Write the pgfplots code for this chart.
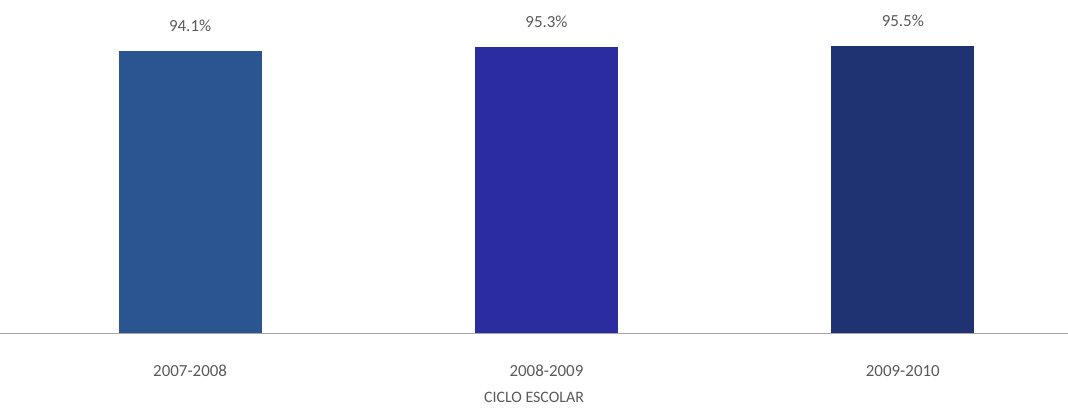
\documentclass[border=0pt]{standalone}
\usepackage{fontspec}
\setmainfont{Carlito}
\usepackage{pgfplots}
\pgfplotsset{compat=1.18}
\definecolor{barA}{HTML}{2B5591}
\definecolor{barB}{HTML}{2A2CA0}
\definecolor{barC}{HTML}{1F3372}
\definecolor{txt}{HTML}{5A5A5A}
\begin{document}
\begin{tikzpicture}
\begin{axis}[
 scale only axis,
 width=1068bp, height=333bp,
 xmin=-0.533, xmax=2.463,
 ymin=0, ymax=111,
 axis x line=bottom,
 axis y line=none,
 axis line style={draw=gray!70, -},
 x axis line style={-},
 xtick={0,1,2},
 xticklabels={2007-2008,2008-2009,2009-2010},
 major tick length=0pt,
 xticklabel style={font=\fontsize{17}{20}\selectfont, text=txt, anchor=center, yshift=-38bp},
 xlabel={CICLO ESCOLAR},
 xlabel style={font=\fontsize{16}{19}\selectfont, text=txt, at={(rel axis cs:0.5,0)}, anchor=center, yshift=-65bp},
 /pgf/number format/assume math mode=true,
 ybar, bar width=143bp, bar shift=0pt,
 nodes near coords={\pgfmathprintnumber[fixed,fixed zerofill,precision=1,assume math mode=true]{\pgfplotspointmeta}\%},
 every node near coord/.append style={font=\fontsize{17}{20}\selectfont, text=txt, yshift=16bp},
 clip=false,
]
\addplot[draw=none, fill=barA] coordinates {(0,94.1)};
\addplot[draw=none, fill=barB] coordinates {(1,95.3)};
\addplot[draw=none, fill=barC] coordinates {(2,95.5)};
\end{axis}
\useasboundingbox (0,-80bp) rectangle (1068bp,333bp);
\end{tikzpicture}
\end{document}
